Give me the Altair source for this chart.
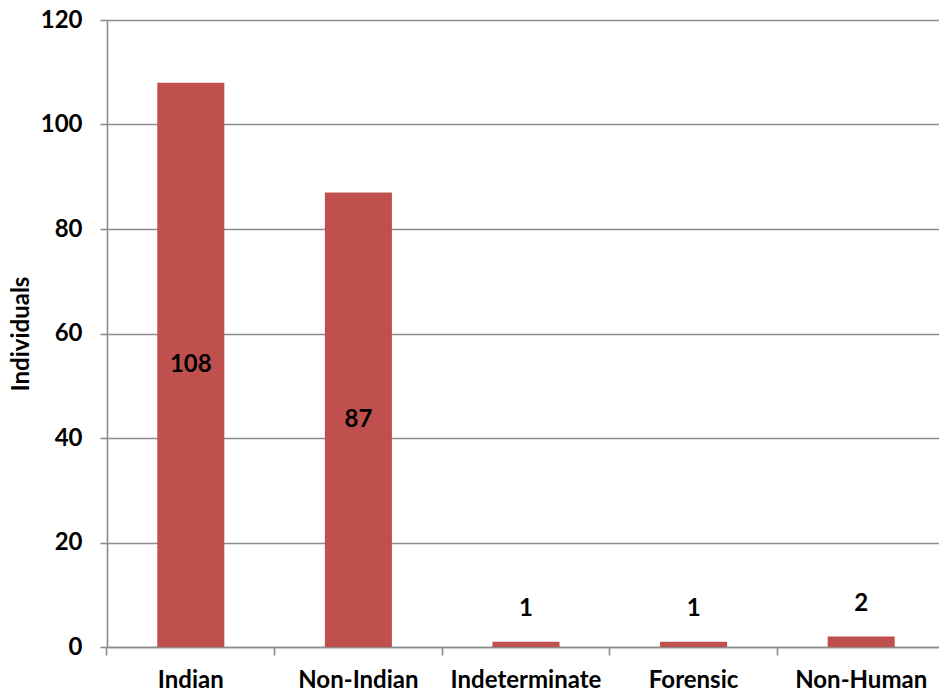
import altair as alt
import pandas as pd

# Counts of individuals by classification
categories = ["Indian", "Non-Indian", "Indeterminate", "Forensic", "Non-Human"]
counts = [108, 87, 1, 1, 2]

df = pd.DataFrame({"category": categories, "count": counts})

FONT = "Lato"
BAR_COLOR = "#C0504D"
GRID_COLOR = "#8C8C8C"

x_scale = alt.Scale(domain=categories, paddingInner=0.6, paddingOuter=0.3, range=[0, 838])
y_scale = alt.Scale(domain=[0, 120], nice=False)

y_axis = alt.Axis(title="Individuals", values=[0, 20, 40, 60, 80, 100, 120],
                  grid=True, gridColor=GRID_COLOR, gridWidth=1.6,
                  domainColor=GRID_COLOR, domainWidth=1.6,
                  tickColor=GRID_COLOR, tickWidth=1.6, tickSize=7,
                  labelFont=FONT, labelFontSize=24, labelFontWeight="bold",
                  labelColor="black", labelPadding=18,
                  titleFont=FONT, titleFontSize=24, titleFontWeight="bold",
                  titleColor="black", titlePadding=7)

bars = alt.Chart(df).mark_bar(color=BAR_COLOR).encode(
    x=alt.X("category:N", scale=x_scale, sort=categories,
            axis=alt.Axis(title=None, ticks=False, domain=False, labelAngle=0,
                          labelFont=FONT, labelFontSize=24, labelFontWeight="bold",
                          labelColor="black", labelPadding=21, orient="bottom")),
    y=alt.Y("count:Q", scale=y_scale, axis=y_axis),
)

# Category-boundary ticks along the bottom axis
boundary_axis = alt.Chart(df).mark_bar(opacity=0).encode(
    x=alt.X("category:N", scale=x_scale, sort=categories,
            axis=alt.Axis(title=None, labels=False, bandPosition=-0.75,
                          domainColor=GRID_COLOR, domainWidth=1.6,
                          tickColor=GRID_COLOR, tickWidth=1.6, tickSize=8,
                          orient="bottom")),
    y=alt.Y("count:Q", scale=y_scale, axis=y_axis),
)

text_style = dict(font=FONT, fontSize=24, fontWeight="bold", color="black",
                  align="center", baseline="middle")

inside_labels = alt.Chart(df).transform_filter("datum.count >= 10").transform_calculate(
    mid="datum.count / 2"
).mark_text(**text_style).encode(
    x=alt.X("category:N", scale=x_scale, sort=categories, axis=None),
    y=alt.Y("mid:Q", scale=y_scale, axis=y_axis),
    text="count:Q",
)

outside_labels = alt.Chart(df).transform_filter("datum.count < 10").mark_text(
    dy=-33, **text_style
).encode(
    x=alt.X("category:N", scale=x_scale, sort=categories, axis=None),
    y=alt.Y("count:Q", scale=y_scale, axis=y_axis),
    text="count:Q",
)

chart = alt.layer(boundary_axis, bars, inside_labels, outside_labels).resolve_axis(
    x="independent"
).properties(
    width=832,
    height=627,
    autosize=alt.AutoSizeParams(type="none"),
    padding={"left": 107, "top": 20, "right": 0, "bottom": 47},
).configure_view(stroke=None).configure(background="white")

chart.save("out.html", embed_options={"renderer": "svg", "actions": False})
